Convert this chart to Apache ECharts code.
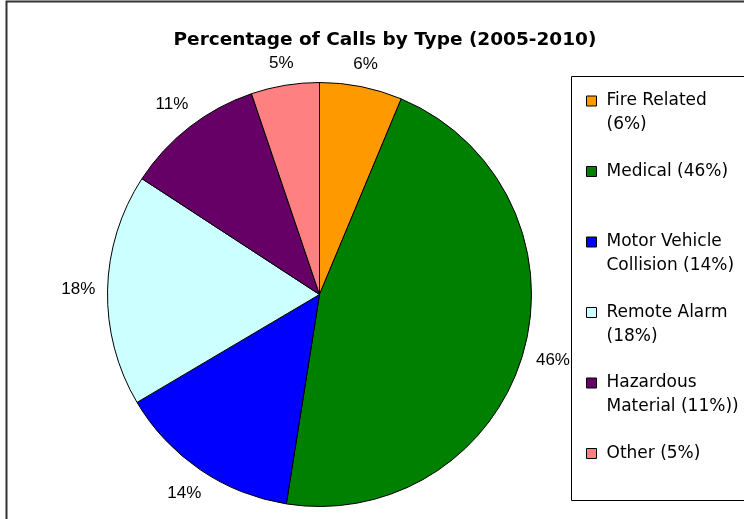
<!DOCTYPE html>
<html>
<head>
<meta charset="utf-8">
<script src="https://cdn.jsdelivr.net/npm/echarts@6/dist/echarts.min.js"></script>
<style>
  html, body { margin: 0; padding: 0; background: #fff; }
  #chart { width: 744px; height: 519px; }
</style>
</head>
<body>
<div id="chart"></div>
<script>
// data
const categories = ['Fire Related', 'Medical', 'Motor Vehicle Collision', 'Remote Alarm', 'Hazardous Material', 'Other']
const values = [6.3, 46.2, 14.0, 17.7, 10.6, 5.2]
const legendLabels = ['Fire Related\n(6%)', 'Medical (46%)', 'Motor Vehicle\nCollision (14%)', 'Remote Alarm\n(18%)', 'Hazardous\nMaterial (11%))', 'Other (5%)']
const colors = ['#FF9900', '#008000', '#0000FF', '#CCFFFF', '#660066', '#FF8080']

const chart = echarts.init(document.getElementById('chart'))

// label sits just outside the slice, centred on its mid direction
const labelGap = 12
const placeLabel = (params) => {
  const pts = params.labelLinePoints
  if (!pts) return {}
  const dx = pts[1][0] - pts[0][0]
  const dy = pts[1][1] - pts[0][1]
  const len = Math.sqrt(dx * dx + dy * dy) || 1
  const ux = dx / len
  const uy = dy / len
  const w = params.labelRect.width / 2
  const h = params.labelRect.height / 2
  const off = labelGap + w * Math.abs(ux) + h * Math.abs(uy)
  return {
    x: pts[0][0] + ux * off,
    y: pts[0][1] + uy * off,
    align: 'center',
    verticalAlign: 'middle'
  }
}

// legend text: 3 lines, the first real line sits level with the icon
const legendText = (name) => {
  const txt = legendLabels[categories.indexOf(name)]
  const lines = txt.split('\n')
  if (lines.length < 2) lines.push('\u00a0')
  return '\u00a0\n' + lines.join('\n')
}

const option = {
  animation: false,
  color: colors,
  title: {
    text: 'Percentage of Calls by Type (2005-2010)',
    left: 385,
    top: 31,
    textAlign: 'center',
    padding: 0,
    textStyle: {
      fontFamily: 'DejaVu Sans',
      fontWeight: 'bold',
      fontSize: 18.5,
      color: '#000'
    }
  },
  legend: {
    orient: 'vertical',
    left: 586,
    top: 65,
    padding: 0,
    itemGap: -1.5,
    itemWidth: 10,
    itemHeight: 10,
    icon: 'rect',
    selectedMode: false,
    data: categories,
    formatter: legendText,
    itemStyle: { borderColor: '#000', borderWidth: 1 },
    textStyle: {
      fontFamily: 'DejaVu Sans',
      fontSize: 17,
      lineHeight: 24,
      color: '#000',
      padding: [0, 0, 0, 5]
    }
  },
  graphic: [
    {
      type: 'rect',
      shape: { x: 6.5, y: 1.5, width: 760, height: 540 },
      style: { fill: 'none', stroke: '#333', lineWidth: 2 },
      silent: true
    },
    {
      type: 'rect',
      shape: { x: 571.5, y: 76.5, width: 200, height: 424 },
      style: { fill: 'none', stroke: '#000', lineWidth: 1 },
      silent: true
    }
  ],
  series: [
    {
      type: 'pie',
      center: [319.5, 294.5],
      radius: 212,
      startAngle: 90,
      clockwise: true,
      silent: true,
      avoidLabelOverlap: false,
      itemStyle: { borderColor: '#000', borderWidth: 1 },
      label: {
        show: true,
        position: 'outside',
        fontFamily: 'Liberation Sans',
        fontSize: 17,
        color: '#000',
        formatter: (p) => Math.round(p.value) + '%'
      },
      labelLine: {
        show: true,
        length: 20,
        length2: 0,
        lineStyle: { opacity: 0 }
      },
      labelLayout: placeLabel,
      data: categories.map((name, i) => ({ name: name, value: values[i] }))
    }
  ]
}

chart.setOption(option)
</script>
</body>
</html>
